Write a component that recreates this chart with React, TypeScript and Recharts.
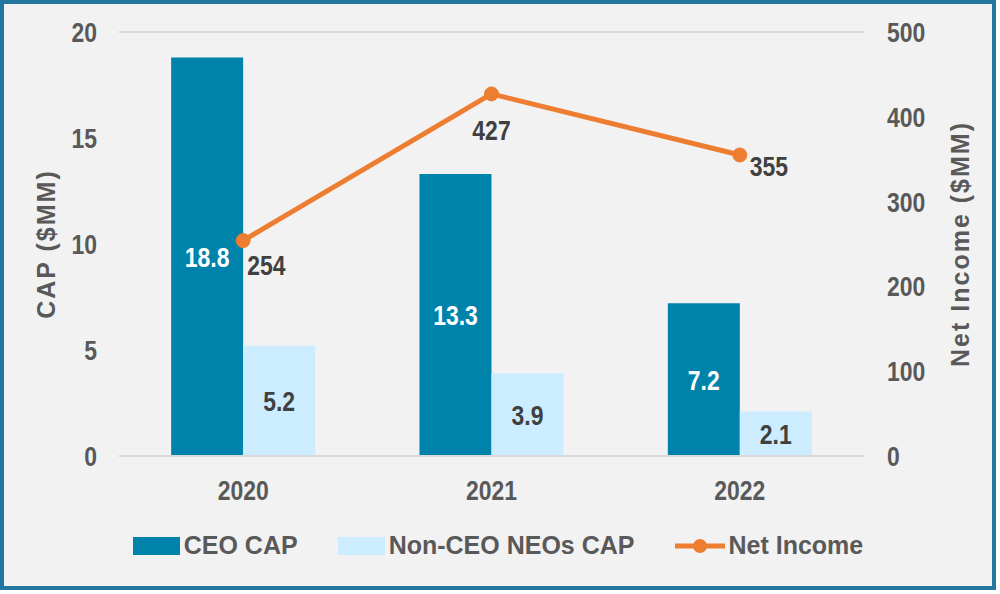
import React from "react";
import {
  ComposedChart,
  Bar,
  Line,
  XAxis,
  YAxis,
  CartesianGrid,
  Legend,
  LabelList,
  Label,
} from "recharts";

const years = ["2020", "2021", "2022"];
const ceoCap = [18.8, 13.3, 7.2];
const nonCeoCap = [5.2, 3.9, 2.1];
const netIncome = [254, 427, 355];
const capTicks = [0, 5, 10, 15, 20];
const incomeTicks = [0, 100, 200, 300, 400, 500];

const data = years.map((year, i) => ({
  year,
  ceo: ceoCap[i],
  nonCeo: nonCeoCap[i],
  income: netIncome[i],
}));

const FONT = "'Liberation Sans', Arial, sans-serif";
const BLUE = "#0083AB";
const LIGHT = "#CCECFF";
const ORANGE = "#ED7D31";
const GREY = "#595959";
const DARK = "#404040";

// Liberation Sans squeezed horizontally to look like Arial Narrow
function NarrowText({ x, y, anchor = "middle", dy = "0.355em", fill = GREY, children }: any) {
  return (
    <text
      transform={`translate(${x},${y}) scale(0.82,1)`}
      x={0}
      y={0}
      dy={dy}
      textAnchor={anchor}
      fill={fill}
      fontSize={28}
      fontWeight={700}
      fontFamily={FONT}
    >
      {children}
    </text>
  );
}

const XTick = (props: any) => (
  <NarrowText x={props.x} y={props.y} dy="0.71em">
    {props.payload.value}
  </NarrowText>
);
const LeftTick = (props: any) => (
  <NarrowText x={props.x} y={props.y} anchor="end">
    {props.payload.value}
  </NarrowText>
);
const RightTick = (props: any) => (
  <NarrowText x={props.x} y={props.y} anchor="start">
    {props.payload.value}
  </NarrowText>
);

function barLabel(fill: string) {
  return (props: any) => {
    const { x, y, width, height, value } = props;
    return (
      <NarrowText x={x + width / 2} y={y + height / 2} fill={fill}>
        {value}
      </NarrowText>
    );
  };
}

function IncomeLabel(props: any) {
  const { x, y, value, index } = props;
  let dx = 4;
  let dy = 24;
  let anchor = "start";
  if (index === 1) {
    dx = 0;
    dy = 36;
    anchor = "middle";
  } else if (index === 2) {
    dx = 10;
    dy = 11;
  }
  return (
    <NarrowText x={x + dx} y={y + dy} anchor={anchor} fill={DARK}>
      {value}
    </NarrowText>
  );
}

function LegendContent() {
  const item = { display: "flex", alignItems: "center" };
  const text = { fontSize: 25, fontWeight: 700, color: GREY, fontFamily: FONT, marginLeft: 4 };
  return (
    <div style={{ display: "flex", justifyContent: "center", gap: 40, marginLeft: 0 }}>
      <div style={item}>
        <span style={{ width: 47, height: 18, background: BLUE, display: "inline-block" }} />
        <span style={text}>CEO CAP</span>
      </div>
      <div style={item}>
        <span style={{ width: 47, height: 18, background: LIGHT, display: "inline-block" }} />
        <span style={text}>Non-CEO NEOs CAP</span>
      </div>
      <div style={item}>
        <svg width={50} height={20}>
          <line x1={0} y1={10} x2={50} y2={10} stroke={ORANGE} strokeWidth={5} />
          <circle cx={25} cy={10} r={7} fill={ORANGE} />
        </svg>
        <span style={text}>Net Income</span>
      </div>
    </div>
  );
}

function axisTitle(text: string, x: number) {
  return ({ viewBox }: any) => {
    const cy = viewBox.y + viewBox.height / 2;
    return (
      <text
        x={x}
        y={cy}
        transform={`rotate(-90, ${x}, ${cy})`}
        textAnchor="middle"
        dominantBaseline="central"
        fill={GREY}
        fontSize={25}
        fontWeight={700}
        fontFamily={FONT}
        letterSpacing={2}
      >
        {text}
      </text>
    );
  };
}

export default function App() {
  return (
    <div
      style={{
        position: "fixed",
        left: 0,
        top: 0,
        width: 996,
        height: 590,
        boxSizing: "border-box",
        border: "4px solid #2177A0",
        background: "#F2F2F2",
      }}
    >
      <div style={{ position: "absolute", left: -4, top: -4 }}>
        <ComposedChart
          width={996}
          height={590}
          data={data}
          margin={{ top: 32, right: 0, left: 0, bottom: 11 }}
          barCategoryGap="21%"
          barGap={0}
        >
          <CartesianGrid vertical={false} stroke="#D9D9D9" strokeWidth={2} />
          <XAxis
            dataKey="year"
            axisLine={{ stroke: "#D9D9D9", strokeWidth: 2 }}
            tickLine={false}
            tick={<XTick />}
            tickSize={0}
            tickMargin={24}
            height={75}
          />
          <YAxis
            yAxisId="cap"
            domain={[0, 20]}
            ticks={capTicks}
            axisLine={false}
            tickLine={false}
            tickSize={0}
            tickMargin={22}
            tick={<LeftTick />}
            width={119}
          >
            <Label content={axisTitle("CAP ($MM)", 46)} />
          </YAxis>
          <YAxis
            yAxisId="income"
            orientation="right"
            domain={[0, 500]}
            ticks={incomeTicks}
            axisLine={false}
            tickLine={false}
            tickSize={0}
            tickMargin={23}
            tick={<RightTick />}
            width={132}
          >
            <Label content={axisTitle("Net Income ($MM)", 960)} />
          </YAxis>
          <Legend verticalAlign="bottom" height={48} content={() => <LegendContent />} />
          <Bar yAxisId="cap" dataKey="ceo" fill={BLUE} isAnimationActive={false}>
            <LabelList dataKey="ceo" content={barLabel("#FFFFFF")} />
          </Bar>
          <Bar yAxisId="cap" dataKey="nonCeo" fill={LIGHT} isAnimationActive={false}>
            <LabelList dataKey="nonCeo" content={barLabel(DARK)} />
          </Bar>
          <Line
            yAxisId="income"
            dataKey="income"
            stroke={ORANGE}
            strokeWidth={5}
            dot={{ r: 7, fill: ORANGE, stroke: ORANGE, strokeWidth: 1 }}
            activeDot={false}
            isAnimationActive={false}
          >
            <LabelList dataKey="income" content={IncomeLabel} />
          </Line>
        </ComposedChart>
      </div>
    </div>
  );
}
